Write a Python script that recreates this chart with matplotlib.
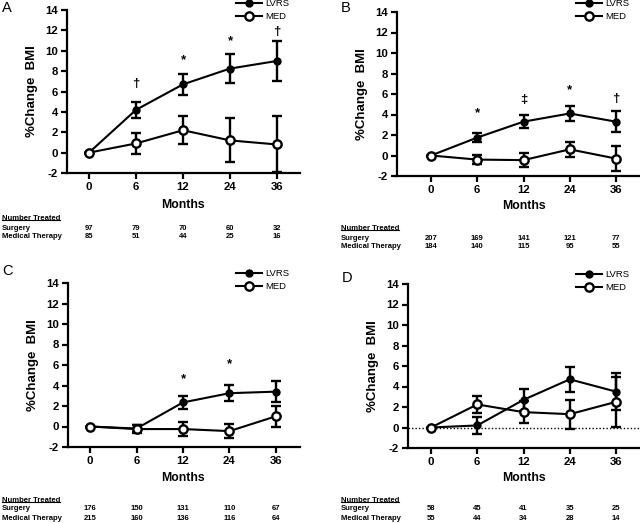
import matplotlib
matplotlib.use("Agg")
import matplotlib.pyplot as plt
import matplotlib.transforms as mtransforms
from matplotlib.lines import Line2D

plt.rcParams['font.family'] = ['Liberation Sans', 'DejaVu Sans']
plt.rcParams['axes.unicode_minus'] = False

months = ['0', '6', '12', '24', '36']

A_lvrs = [0, 4.2, 6.7, 8.25, 9.0]
A_lvrs_err = [0, 0.8, 1.0, 1.4, 1.95]
A_med = [0, 0.9, 2.2, 1.2, 0.8]
A_med_err = [0, 1.05, 1.35, 2.15, 2.75]
A_sig = ['', '†', '*', '*', '†']
A_sig_y = [0, 6.7, 9.1, 10.9, 11.8]
A_surg = ['97', '79', '70', '60', '32']
A_medn = ['85', '51', '44', '25', '16']

B_lvrs = [0, 1.75, 3.3, 4.1, 3.3]
B_lvrs_err = [0, 0.4, 0.65, 0.7, 1.0]
B_med = [0, -0.4, -0.45, 0.6, -0.3]
B_med_err = [0, 0.45, 0.7, 0.75, 1.2]
B_sig = ['', '*', '‡', '*', '†']
B_sig_y = [0, 4.1, 5.45, 6.4, 5.5]
B_surg = ['207', '169', '141', '121', '77']
B_medn = ['184', '140', '115', '95', '55']

C_lvrs = [0, -0.2, 2.35, 3.25, 3.4]
C_lvrs_err = [0, 0.35, 0.65, 0.8, 1.05]
C_med = [0, -0.25, -0.25, -0.45, 1.0]
C_med_err = [0, 0.4, 0.65, 0.7, 1.0]
C_sig = ['', '', '*', '*', '']
C_sig_y = [0, 0, 4.65, 6.1, 0]
C_surg = ['176', '150', '131', '110', '67']
C_medn = ['215', '160', '136', '116', '64']

D_lvrs = [0, 0.2, 2.7, 4.7, 3.5]
D_lvrs_err = [0, 0.8, 1.05, 1.25, 1.8]
D_med = [0, 2.25, 1.5, 1.3, 2.5]
D_med_err = [0, 0.8, 1.05, 1.4, 2.45]
D_sig = ['', '', '', '', '']
D_sig_y = [0, 0, 0, 0, 0]
D_surg = ['58', '45', '41', '35', '25']
D_medn = ['55', '44', '34', '28', '14']

W, H = 640, 523
fig = plt.figure(figsize=(6.4, 5.23), dpi=100)


def fy(p):
    return 1 - p / H


panels = [
    dict(letter='A', lv=A_lvrs, lve=A_lvrs_err, md=A_med, mde=A_med_err, sig=A_sig, sigy=A_sig_y,
         surg=A_surg, medn=A_medn, box=(67, 300, 10, 173), x0=89, x4=277, lpos=(2, 8),
         leg=(236, -1), months_y=205, rows=(218, 228, 237), tleft=2, dotted=False),
    dict(letter='B', lv=B_lvrs, lve=B_lvrs_err, md=B_med, mde=B_med_err, sig=B_sig, sigy=B_sig_y,
         surg=B_surg, medn=B_medn, box=(397, 640, 12, 176), x0=431, x4=616, lpos=(341, 8),
         leg=(576, -1), months_y=206, rows=(228, 238, 247), tleft=341, dotted=False),
    dict(letter='C', lv=C_lvrs, lve=C_lvrs_err, md=C_med, mde=C_med_err, sig=C_sig, sigy=C_sig_y,
         surg=C_surg, medn=C_medn, box=(68, 300, 283, 447), x0=90, x4=276, lpos=(2, 271),
         leg=(236, 269), months_y=478, rows=(500, 509, 519), tleft=2, dotted=False),
    dict(letter='D', lv=D_lvrs, lve=D_lvrs_err, md=D_med, mde=D_med_err, sig=D_sig, sigy=D_sig_y,
         surg=D_surg, medn=D_medn, box=(408, 640, 284, 448), x0=431, x4=616, lpos=(342, 278),
         leg=(576, 270), months_y=478, rows=(500, 509, 519), tleft=341, dotted=True),
]

TFS = 5.5
underline_texts = []
for p in panels:
    l, r, t, b = p['box']
    ax = fig.add_axes([l / W, fy(b), (r - l) / W, (b - t) / H])
    per = (p['x4'] - p['x0']) / 4.0
    ax.set_xlim((l - p['x0']) / per, (r - p['x0']) / per)
    ax.set_ylim(-2, 14)
    xs = list(range(len(months)))
    if p['dotted']:
        ax.axhline(0, color='black', lw=1.0, ls=(0, (1, 1.5)), zorder=1)
    ax.errorbar(xs, p['lv'], yerr=p['lve'], fmt='none', ecolor='black', elinewidth=1.7,
                capsize=3.6, capthick=1.7, zorder=2, clip_on=False)
    ax.errorbar(xs, p['md'], yerr=p['mde'], fmt='none', ecolor='black', elinewidth=1.7,
                capsize=3.6, capthick=1.7, zorder=2, clip_on=False)
    h1, = ax.plot(xs, p['lv'], color='black', lw=1.5, marker='o', ms=5,
                  mfc='black', mec='black', zorder=3, label='LVRS', clip_on=False)
    h2, = ax.plot(xs, p['md'], color='black', lw=1.5, marker='o', ms=6,
                  mfc='white', mec='black', mew=1.7, zorder=4, label='MED', clip_on=False)
    for i, (s, y) in enumerate(zip(p['sig'], p['sigy'])):
        if s:
            ax.text(i, y, s, ha='center', va='center', fontsize=9.5, fontweight='bold')

    for sp in ['top', 'right']:
        ax.spines[sp].set_visible(False)
    for sp in ['left', 'bottom']:
        ax.spines[sp].set_linewidth(1.6)
    ax.set_xticks(xs)
    ax.set_xticklabels(months)
    ax.set_yticks(range(-2, 15, 2))
    ax.tick_params(axis='both', direction='out', length=4, width=1.6, labelsize=8.2, pad=2.5)
    for lab in ax.get_xticklabels() + ax.get_yticklabels():
        lab.set_fontweight('bold')
    ax.set_ylabel('%Change  BMI', fontsize=9.5, fontweight='bold', labelpad=5)

    ax.legend(handles=[h1, h2], loc='upper left',
              bbox_to_anchor=(p['leg'][0] / W, fy(p['leg'][1])),
              bbox_transform=fig.transFigure, frameon=False, fontsize=6.8,
              handlelength=2.8, handletextpad=0.35, labelspacing=0.45, borderpad=0,
              borderaxespad=0)

    fig.text(p['lpos'][0] / W, fy(p['lpos'][1]), p['letter'], fontsize=10.5, ha='left', va='center')

    tr = mtransforms.blended_transform_factory(ax.transData, fig.transFigure)
    ax.text(2, fy(p['months_y']), 'Months', transform=tr, ha='center', va='center',
            fontsize=8.8, fontweight='bold')
    nt = fig.text(p['tleft'] / W, fy(p['rows'][0]), 'Number Treated', ha='left', va='center',
                  fontsize=TFS, fontweight='bold')
    underline_texts.append(nt)
    fig.text(p['tleft'] / W, fy(p['rows'][1]), 'Surgery', ha='left', va='center',
             fontsize=TFS, fontweight='bold')
    fig.text(p['tleft'] / W, fy(p['rows'][2]), 'Medical Therapy', ha='left', va='center',
             fontsize=TFS, fontweight='bold')
    for i in xs:
        ax.text(i, fy(p['rows'][1]), p['surg'][i], transform=tr, ha='center', va='center',
                fontsize=TFS, fontweight='bold')
        ax.text(i, fy(p['rows'][2]), p['medn'][i], transform=tr, ha='center', va='center',
                fontsize=TFS, fontweight='bold')

fig.canvas.draw()
renderer = fig.canvas.get_renderer()
inv = fig.transFigure.inverted()
for t in underline_texts:
    bb = t.get_window_extent(renderer)
    (x0, y0), (x1, y1) = inv.transform([(bb.x0, bb.y0), (bb.x1, bb.y1)])
    fig.add_artist(Line2D([x0, x1], [y0 + 0.002, y0 + 0.002], color='black', lw=0.8,
                          transform=fig.transFigure))

fig.savefig('out.png', dpi=100)
